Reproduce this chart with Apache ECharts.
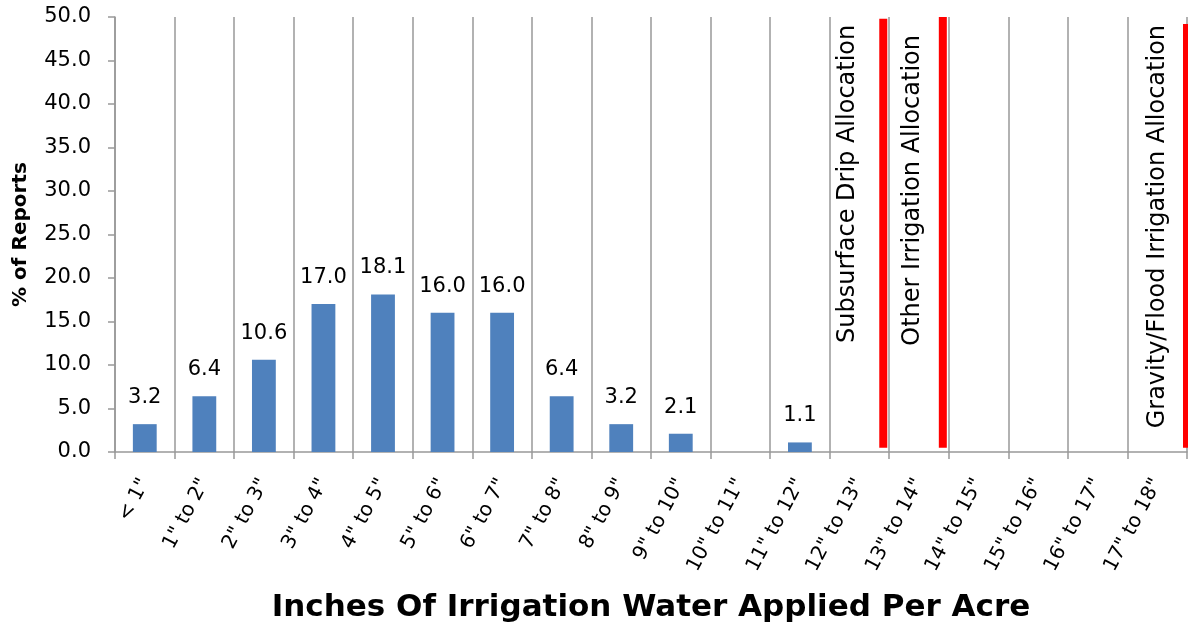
<!DOCTYPE html>
<html><head><meta charset="utf-8">
<script src="https://cdn.jsdelivr.net/npm/echarts@6/dist/echarts.min.js"></script>
<style>html,body{margin:0;padding:0;background:#fff}#c{width:1188px;height:642px}</style>
</head><body><div id="c"></div>
<script>
const categories = ['< 1"','1" to 2"','2" to 3"','3" to 4"','4" to 5"','5" to 6"','6" to 7"','7" to 8"','8" to 9"','9" to 10"','10" to 11"','11" to 12"','12" to 13"','13" to 14"','14" to 15"','15" to 16"','16" to 17"','17" to 18"'];
const reports = [3.2,6.4,10.6,17.0,18.1,16.0,16.0,6.4,3.2,2.1,null,1.1,null,null,null,null,null,null];
const allocNames = ['Subsurface Drip Allocation','Other Irrigation Allocation','Gravity/Flood Irrigation Allocation'];
const allocInches = [12.9,13.9,18.0];
const allocTop = [49.8,50.0,49.2];
const allocBottom = [0.5,0.5,0.5];

const FONT = '"DejaVu Sans", "Noto Sans", sans-serif';
const gray = '#999';
const labelDist = [36,30,29];
const labelDown = [6,18,1];

const chart = echarts.init(document.getElementById('c'));
const allocSeries = allocNames.map((n,i)=>({
  type:'line', name:n, xAxisIndex:1, yAxisIndex:0,
  symbol:'circle', symbolSize:0, showSymbol:true, silent:true, animation:false,
  itemStyle:{color:'#FF0000'},
  lineStyle:{color:'#FF0000', width:8, cap:'butt'},
  label:{show:false},
  data:[
    {value:[allocInches[i], allocBottom[i]]},
    {value:[allocInches[i], allocTop[i]], label:{
      show:true, position:'left', distance:labelDist[i], rotate:90,
      align:'right', verticalAlign:'middle', offset:[-labelDown[i],0],
      formatter:n, fontFamily:FONT, fontSize:24, color:'#000'
    }}
  ]
}));
chart.setOption({
  animation:false,
  textStyle:{fontFamily:FONT},
  grid:{left:115, right:1, top:17, bottom:190, containLabel:false},
  xAxis:[{
    type:'category', data:categories, boundaryGap:true,
    axisLine:{lineStyle:{color:gray, width:1.5}},
    axisTick:{show:true, alignWithLabel:false, length:7, lineStyle:{color:gray, width:1.5}},
    splitLine:{show:true, lineStyle:{color:gray, width:1.5}},
    axisLabel:{rotate:62, fontSize:20, color:'#000', fontFamily:FONT, interval:0, margin:28},
    name:'Inches Of Irrigation Water Applied Per Acre', nameLocation:'middle', nameGap:140,
    nameTextStyle:{fontSize:31, fontWeight:'bold', color:'#000', fontFamily:FONT}
  },{
    type:'value', min:0, max:18, show:false
  }],
  yAxis:{
    type:'value', min:0, max:50, interval:5,
    axisLine:{show:true, lineStyle:{color:gray, width:1.5}},
    axisTick:{show:true, length:7, lineStyle:{color:gray, width:1.5}},
    splitLine:{show:false},
    axisLabel:{formatter:v=>v.toFixed(1), fontSize:21, color:'#000', fontFamily:FONT, margin:24},
    name:'% of Reports', nameLocation:'middle', nameGap:84,
    nameTextStyle:{fontSize:20, fontWeight:'bold', color:'#000', fontFamily:FONT}
  },
  series:[{
    type:'bar', data:reports, barWidth:'40%',
    itemStyle:{color:'#4F81BD'},
    label:{show:true, position:'top', distance:16, formatter:p=>p.value==null?'':p.value.toFixed(1), fontSize:21, color:'#000', fontFamily:FONT}
  }].concat(allocSeries)
});
</script></body></html>
